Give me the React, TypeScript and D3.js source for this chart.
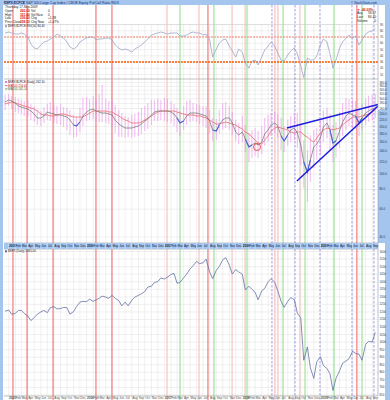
import React from "react";
import * as d3 from "d3";

// Semi-monthly sample dates (1st and 15th), Dec 15 2004 – Sep 15 2009
const sampleDates: Date[] = (() => {
  const out: Date[] = [];
  const first = new Date(2004, 11, 15);
  const last = new Date(2009, 8, 15);
  for (let y = 2004; y <= 2009; y++)
    for (let m = 0; m < 12; m++)
      for (const d of [1, 15]) {
        const dt = new Date(y, m, d);
        if (dt >= first && dt <= last) out.push(dt);
      }
  return out;
})();

// Top indicator panel
const rsiValues = [
  76.4, 78.0, 76.4, 74.8, 74.8, 76.4, 74.8, 70.0, 58.8, 52.4,
  50.8, 57.2, 62.0, 63.6, 66.8, 70.0, 74.8, 71.6, 68.4, 62.0,
  54.0, 50.8, 54.0, 62.0, 65.2, 68.4, 70.0, 70.0, 65.2, 66.8,
  66.8, 68.4, 68.4, 65.2, 57.2, 52.4, 49.2, 50.8, 49.2, 46.0,
  50.8, 54.0, 57.2, 62.0, 66.8, 73.2, 74.8, 76.4, 78.0, 76.4,
  74.8, 76.4, 76.4, 76.4, 71.6, 71.6, 73.2, 76.4, 78.0, 76.4,
  76.4, 73.2, 74.8, 65.2, 38.0, 50.8, 60.4, 65.2, 66.8, 55.6,
  47.6, 38.0, 50.8, 46.0, 28.4, 20.4, 31.6, 33.2, 25.2, 38.0,
  49.2, 55.6, 62.0, 55.6, 44.4, 33.2, 31.6, 41.2, 47.6, 52.4,
  42.8, 23.6, 5.0, 36.4, 33.2, 33.2, 39.6, 57.2, 66.8, 62.0,
  42.8, 20.4, 33.2, 52.4, 62.0, 68.4, 73.2, 68.4, 71.6, 57.2,
  65.2, 74.8, 78.0, 79.6, 84.4,
];

// Ratio panel: period high / low range and the two moving averages
const ratioHigh = [
  316.8, 321.4, 312.2, 307.7, 298.9, 294.6, 290.3, 294.6, 277.9, 269.9,
  254.6, 250.9, 266.0, 277.9, 286.1, 273.8, 269.9, 277.9, 266.0, 262.1,
  254.6, 236.7, 229.9, 262.1, 303.3, 307.7, 298.9, 312.2, 294.6, 321.4,
  366.6, 298.9, 290.3, 294.6, 273.8, 254.6, 243.7, 233.3, 229.9, 236.7,
  240.2, 247.3, 262.1, 269.9, 281.9, 294.6, 294.6, 298.9, 294.6, 303.3,
  298.9, 290.3, 277.9, 262.1, 250.9, 269.9, 290.3, 294.6, 281.9, 277.9,
  273.8, 269.9, 269.9, 254.6, 226.6, 223.3, 254.6, 281.9, 286.1, 269.9,
  247.3, 220.1, 210.7, 233.3, 204.6, 182.1, 190.2, 195.8, 187.5, 201.7,
  226.6, 236.7, 243.7, 247.3, 240.2, 226.6, 201.7, 220.1, 233.3, 243.7,
  243.7, 204.6, 164.4, 142.1, 176.9, 190.2, 195.8, 220.1, 254.6, 262.1,
  240.2, 204.6, 213.7, 247.3, 281.9, 303.3, 298.9, 294.6, 290.3, 262.1,
  277.9, 298.9, 312.2, 316.8, 321.4,
];
const ratioLow = [
  254.6, 269.9, 258.3, 247.3, 243.7, 240.2, 233.3, 229.9, 220.1, 213.7,
  204.6, 201.7, 210.7, 220.1, 216.9, 210.7, 207.6, 204.6, 198.7, 190.2,
  176.9, 169.3, 171.8, 184.8, 201.7, 216.9, 220.1, 223.3, 216.9, 213.7,
  213.7, 210.7, 207.6, 201.7, 182.1, 171.8, 171.8, 169.3, 171.8, 169.3,
  171.8, 174.3, 179.5, 187.5, 193.0, 204.6, 216.9, 216.9, 220.1, 216.9,
  213.7, 210.7, 201.7, 184.8, 174.3, 190.2, 204.6, 213.7, 216.9, 213.7,
  207.6, 201.7, 195.8, 182.1, 162.1, 164.4, 179.5, 190.2, 195.8, 190.2,
  176.9, 162.1, 155.1, 159.7, 138.1, 119.3, 126.5, 130.2, 126.5, 134.1,
  150.7, 159.7, 174.3, 182.1, 169.3, 142.1, 138.1, 150.7, 159.7, 164.4,
  146.3, 114.2, 81.7, 66.7, 89.1, 109.3, 122.9, 132.1, 159.7, 169.3,
  142.1, 119.3, 126.5, 146.3, 174.3, 190.2, 201.7, 195.8, 193.0, 174.3,
  187.5, 204.6, 213.7, 220.1, 226.6,
];
const ma20 = [
  286.1, 294.6, 290.3, 281.9, 269.9, 266.0, 262.1, 258.3, 250.9, 240.2,
  226.6, 226.6, 233.3, 247.3, 243.7, 240.2, 236.7, 236.7, 233.3, 229.9,
  220.1, 204.6, 201.7, 213.7, 233.3, 247.3, 254.6, 258.3, 250.9, 247.3,
  243.7, 243.7, 240.2, 236.7, 220.1, 207.6, 201.7, 195.8, 195.8, 195.8,
  198.7, 201.7, 207.6, 216.9, 223.3, 236.7, 247.3, 250.9, 250.9, 250.9,
  250.9, 247.3, 240.2, 226.6, 210.7, 216.9, 233.3, 243.7, 243.7, 243.7,
  240.2, 236.7, 233.3, 216.9, 190.2, 187.5, 204.6, 220.1, 226.6, 226.6,
  210.7, 184.8, 176.9, 184.8, 166.8, 148.5, 152.9, 157.4, 152.9, 159.7,
  179.5, 190.2, 204.6, 210.7, 201.7, 174.3, 162.1, 176.9, 190.2, 195.8,
  182.1, 152.9, 119.3, 103.1, 122.9, 148.5, 155.1, 169.3, 198.7, 210.7,
  190.2, 157.4, 162.1, 187.5, 213.7, 233.3, 243.7, 236.7, 233.3, 210.7,
  226.6, 243.7, 250.9, 258.3, 262.1,
];
const ma50 = [
  277.9, 281.9, 286.1, 281.9, 277.9, 273.8, 269.9, 266.0, 262.1, 258.3,
  250.9, 240.2, 236.7, 236.7, 233.3, 233.3, 236.7, 240.2, 240.2, 236.7,
  233.3, 229.9, 229.9, 229.9, 229.9, 236.7, 243.7, 250.9, 250.9, 250.9,
  250.9, 250.9, 247.3, 247.3, 240.2, 233.3, 226.6, 220.1, 216.9, 210.7,
  210.7, 210.7, 213.7, 220.1, 226.6, 233.3, 240.2, 247.3, 250.9, 250.9,
  250.9, 250.9, 250.9, 247.3, 243.7, 240.2, 236.7, 236.7, 236.7, 233.3,
  233.3, 229.9, 226.6, 220.1, 213.7, 207.6, 207.6, 210.7, 213.7, 210.7,
  207.6, 204.6, 198.7, 193.0, 184.8, 179.5, 171.8, 164.4, 157.4, 155.1,
  164.4, 174.3, 187.5, 195.8, 198.7, 195.8, 193.0, 190.2, 184.8, 182.1,
  184.8, 184.8, 176.9, 171.8, 164.4, 159.7, 169.3, 182.1, 190.2, 195.8,
  193.0, 190.2, 193.0, 195.8, 204.6, 213.7, 220.1, 229.9, 229.9, 229.9,
  233.3, 236.7, 240.2, 247.3, 254.6,
];
// Troughs of the fast average that are marked in blue
const troughIndex = [22, 54, 65, 75, 86, 93, 101, 109];

// S&P 500 closes
const spxClose = [
  1205,
  1212, 1185, 1190, 1210, 1210, 1190, 1172, 1143, 1162, 1185, 1200, 1210,
  1195, 1228, 1235, 1220, 1222, 1230, 1228, 1186, 1202, 1235, 1265, 1270,
  1268, 1285, 1270, 1280, 1290, 1305, 1298, 1290, 1310, 1290, 1275, 1240,
  1265, 1240, 1278, 1298, 1310, 1320, 1335, 1365, 1370, 1395, 1400, 1425,
  1418, 1430, 1448, 1455, 1390, 1395, 1425, 1450, 1485, 1505, 1535, 1520,
  1525, 1550, 1465, 1420, 1475, 1500, 1545, 1560, 1510, 1450, 1480, 1465,
  1450, 1345, 1370, 1350, 1330, 1280, 1340, 1355, 1400, 1420, 1395, 1340,
  1270, 1230, 1270, 1295, 1280, 1192, 1161, 880, 968, 830, 760, 870,
  903, 845, 825, 790, 680, 760, 810, 860, 875, 890, 940, 925,
  920, 880, 985, 1005, 1000, 1065,
];

// Hand-drawn trendlines on the ratio panel: [date, value]
const trendUpper: [string, number][] = [["2008-07-28", 196], ["2009-09-28", 276]];
const trendLower: [string, number][] = [["2008-09-13", 90.4], ["2009-09-28", 269.9]];
const circledPoint: [string, number] = ["2008-03-10", 148.5];

// Event markers
const redEvents = ["2005-01-21", "2005-03-28", "2005-07-28", "2006-02-14", "2006-04-30", "2007-07-24", "2009-06-21"];
const paleRedEvents = ["2007-01-13", "2007-06-12", "2007-11-14", "2008-01-14", "2008-06-02", "2008-06-16", "2008-09-27"];
const greenEvents = ["2007-03-15", "2007-08-21", "2008-01-23", "2008-07-10", "2008-10-21", "2009-03-06", "2009-07-15"];
const blueEvents = ["2008-05-19", "2008-09-04", "2008-12-30", "2009-05-29", "2009-09-09"];

// Axis ticks
const rsiTicks = [10, 20, 30, 40, 50, 60, 70, 80, 90];
const ratioTicks = [380, 360, 340, 320, 300, 280, 260, 240, 220, 200, 180, 160, 140, 120, 100, 80, 60, 40];
const spxTicks = d3.range(650, 1601, 50);

const W = 390;
const H = 400;
const PL = 4;
const PR = 378;
const P1 = { top: 5, hdr: 25, bottom: 79 };
const P2 = { top: 79, bottom: 243 };
const BAND = { top: 243, bottom: 249 };
const P3 = { top: 249, bottom: 396 };
const FONT = "'Liberation Sans', Arial, sans-serif";
const FRAME = "#a3c5ee";
const GRID = "#e1e1e1";

const parse = d3.timeParse("%Y-%m-%d");

export default function App() {
  const x = d3.scaleTime().domain([new Date(2004, 11, 10), new Date(2009, 8, 28)]).range([PL, PR]);
  const yRsi = d3.scaleLinear().domain([0, 100]).range([80.75, 18.25]);
  const yRatio = d3.scaleLog().domain([40, 400]).range([237, 79]);
  const ySpx = d3.scaleLinear().domain([630, 1610]).range([398, 250]);

  const xi = (i: number) => x(sampleDates[i]);
  const rsiLine = d3.line<number>().x((_, i) => xi(i)).y((v) => yRsi(v))(rsiValues) || "";
  const ma20Line = d3.line<number>().x((_, i) => xi(i)).y((v) => yRatio(v))(ma20) || "";
  const ma50Line = d3.line<number>().x((_, i) => xi(i)).y((v) => yRatio(v))(ma50) || "";
  const spxLine = d3.line<number>().x((_, i) => xi(i)).y((v) => ySpx(v))(spxClose) || "";
  const trendPath = (pts: [string, number][]) =>
    d3.line<[string, number]>().x((p) => x(parse(p[0])!)).y((p) => yRatio(p[1]))(pts) || "";
  const troughPaths = troughIndex.map((k) => {
    const idx = [k - 1, k, k + 1];
    return d3.line<number>().x((i) => xi(i)).y((i) => yRatio(ma20[i]))(idx) || "";
  });

  const months = d3.timeMonth.range(new Date(2004, 11, 1), new Date(2009, 9, 1)).filter((d) => x(d) >= PL && x(d) <= PR);
  const monthLabel = (d: Date) => (d.getMonth() === 0 ? String(d.getFullYear()) : d3.timeFormat("%b")(d));

  const last = rsiValues.length - 1;
  const fmt2 = d3.format(".2f");

  const eventGroups = [
    { dates: redEvents, stroke: "#f07b7b", width: 1.2, dash: undefined },
    { dates: paleRedEvents, stroke: "#f7c3c3", width: 1.2, dash: undefined },
    { dates: greenEvents, stroke: "#9ee39a", width: 1.2, dash: undefined },
    { dates: blueEvents, stroke: "#8585e8", width: 0.8, dash: "2.5,1.5" },
  ];

  const txt = { fontFamily: FONT } as const;

  return (
    <svg width={W} height={H} viewBox={`0 0 ${W} ${H}`} style={{ position: "absolute", left: 0, top: 0, background: "#fff" }}>
      <defs>
        <clipPath id="c1"><rect x={PL} y={P1.hdr} width={PR - PL} height={P1.bottom - P1.hdr} /></clipPath>
        <clipPath id="c2"><rect x={PL} y={P2.top} width={PR - PL} height={P2.bottom - P2.top} /></clipPath>
        <clipPath id="c3"><rect x={PL} y={P3.top} width={PR - PL} height={P3.bottom - P3.top} /></clipPath>
      </defs>

      {/* frame strips */}
      <rect x={0} y={0} width={W} height={P1.top} fill={FRAME} />
      <rect x={0} y={0} width={PL - 1} height={H} fill={FRAME} />
      <rect x={W - 5} y={0} width={5} height={H} fill={FRAME} />
      <rect x={PR} y={110} width={W - PR} height={P2.bottom - 110} fill={FRAME} />

      {/* monthly grid */}
      {months.map((d, i) => (
        <g key={`mg${i}`} stroke={GRID} strokeWidth={0.5}>
          <line x1={x(d)} x2={x(d)} y1={P1.hdr} y2={P1.bottom} />
          <line x1={x(d)} x2={x(d)} y1={P2.top} y2={P2.bottom} />
          <line x1={x(d)} x2={x(d)} y1={P3.top} y2={P3.bottom} />
        </g>
      ))}

      {/* horizontal grids */}
      {rsiTicks.map((t) => (
        <line key={`rg${t}`} x1={PL} x2={PR} y1={yRsi(t)} y2={yRsi(t)} stroke={t === 90 ? "#bdbdbd" : GRID} strokeWidth={0.5} />
      ))}
      {ratioTicks.map((t) => (
        <line key={`qg${t}`} x1={PL} x2={PR} y1={yRatio(t)} y2={yRatio(t)} stroke={GRID} strokeWidth={0.5} />
      ))}
      {spxTicks.map((t) => (
        <line key={`sg${t}`} x1={PL} x2={PR} y1={ySpx(t)} y2={ySpx(t)} stroke={GRID} strokeWidth={0.5} />
      ))}

      {/* event markers */}
      {eventGroups.map((g, gi) =>
        g.dates.map((s, i) => {
          const xx = x(parse(s)!);
          return (
            <line key={`ev${gi}-${i}`} x1={xx} x2={xx} y1={P1.top} y2={H} stroke={g.stroke} strokeWidth={g.width} strokeDasharray={g.dash} />
          );
        })
      )}

      {/* overbought / oversold levels */}
      <line x1={PL} x2={PR} y1={yRsi(70)} y2={yRsi(70)} stroke="#f5a596" strokeOpacity={0.7} strokeWidth={2.2} strokeDasharray="2,1" />
      <line x1={PL} x2={PR} y1={yRsi(30)} y2={yRsi(30)} stroke="#ff5a00" strokeWidth={1.3} strokeDasharray="2,1" />

      {/* indicator line */}
      <path d={rsiLine} fill="none" stroke="#97a2c4" strokeWidth={0.75} clipPath="url(#c1)" />

      {/* ratio panel */}
      <g clipPath="url(#c2)">
        {ratioHigh.map((h, i) => (
          <line key={`rb${i}`} x1={xi(i)} x2={xi(i)} y1={yRatio(h)} y2={yRatio(ratioLow[i])} stroke="#e884e8" strokeOpacity={0.5} strokeWidth={1.1} />
        ))}
        <path d={ma50Line} fill="none" stroke="#e86262" strokeWidth={0.75} />
        <path d={ma20Line} fill="none" stroke="#6f7a6f" strokeWidth={0.75} />
        {troughPaths.map((p, i) => (
          <path key={`tr${i}`} d={p} fill="none" stroke="#4866dc" strokeWidth={1.1} />
        ))}
        <path d={trendPath(trendUpper)} fill="none" stroke="#1d1de0" strokeWidth={1.5} />
        <path d={trendPath(trendLower)} fill="none" stroke="#1d1de0" strokeWidth={1.5} />
        <circle cx={x(parse(circledPoint[0])!)} cy={yRatio(circledPoint[1])} r={3.5} fill="none" stroke="#e03030" strokeWidth={0.8} />
      </g>

      {/* S&P panel */}
      <path d={spxLine} fill="none" stroke="#5a6b9e" strokeWidth={0.75} clipPath="url(#c3)" />

      {/* panel borders */}
      <g stroke="#9a9a9a" strokeWidth={0.6}>
        <line x1={PL} x2={PR} y1={P2.top} y2={P2.top} />
        <line x1={PL} x2={PR} y1={P2.bottom} y2={P2.bottom} />
        <line x1={PL} x2={PR} y1={P3.top} y2={P3.top} />
        <line x1={PL} x2={PR} y1={P3.bottom} y2={P3.bottom} />
        <line x1={PR} x2={PR} y1={P1.top} y2={P3.bottom} />
      </g>

      {/* date band */}
      <rect x={PL} y={BAND.top} width={PR - PL} height={BAND.bottom - BAND.top} fill={FRAME} />
      {months.map((d, i) => (
        <g key={`ml${i}`} style={txt}>
          <line x1={x(d)} x2={x(d)} y1={BAND.top} y2={BAND.bottom} stroke="#ffffff" strokeWidth={0.4} />
          <text x={x(d) + 0.4} y={BAND.bottom - 1.6} fontSize={3.1} fill="#10204a" fontWeight={d.getMonth() === 0 ? 700 : 400}>{monthLabel(d)}</text>
          <text x={x(d) + 0.4} y={H - 0.8} fontSize={3.1} fill="#555" fontWeight={d.getMonth() === 0 ? 700 : 400}>{monthLabel(d)}</text>
        </g>
      ))}

      {/* right axes */}
      <g style={txt} fontSize={2.9} fill="#333">
        {rsiTicks.map((t) => (
          <text key={`rl${t}`} x={PR + 2} y={yRsi(t) + 1}>{t}</text>
        ))}
        {ratioTicks.map((t) => (
          <text key={`ql${t}`} x={PR + 1.5} y={yRatio(t) + 1}>{d3.format(".1f")(t)}</text>
        ))}
        {spxTicks.map((t) => (
          <text key={`sl${t}`} x={PR + 1.5} y={ySpx(t) + 1}>{t}</text>
        ))}
      </g>

      {/* title bar */}
      <text x={4} y={3.8} fontSize={3.4} fill="#14286a" style={txt}>
        <tspan fontWeight={700}>$SPX:$CPCE</tspan> S&amp;P 500 Large Cap Index / CBOE Equity Put/Call Ratio  INDX
      </text>
      <text x={PR - 1} y={3.8} fontSize={3} fill="#14286a" textAnchor="end" style={txt}>© StockCharts.com</text>

      {/* header block */}
      <g style={txt} fontSize={3.2} fill="#222">
        <text x={5} y={8.4}>Thursday 17-Sep-2009</text>
        {[
          ["Open", fmt2(ma20[last] - 1.9), "Vol", "0"],
          ["High", fmt2(ratioHigh[last]), "Vol Now", "0"],
          ["Low", fmt2(ratioLow[last]), "Chg", "+1.38"],
          ["Prev Close", fmt2(ma20[last - 1]), "Chg Now", "+1.47%"],
        ].map((r, i) => (
          <g key={`hd${i}`}>
            <text x={5} y={12 + i * 3.5}>{r[0]}</text>
            <text x={20} y={12 + i * 3.5} fill="#d01010" fontWeight={700}>{r[1]}</text>
            <text x={31} y={12 + i * 3.5}>{r[2]}</text>
            <text x={48} y={12 + i * 3.5}>{r[3]}</text>
          </g>
        ))}
        <rect x={5} y={25.2} width={2} height={2} fill="#97a2c4" />
        <text x={8} y={27.3} fontSize={2.9}>$SPX:$CPCE RSI(14) {fmt2(rsiValues[last])}</text>
      </g>
      <g style={txt} fontSize={3.2} fill="#222">
        <text x={357} y={10.5} fill="#d01010" fontWeight={700}>▼ -40.03%</text>
        <text x={357} y={14.3}>Avg</text>
        <text x={376} y={14.3} textAnchor="end">{fmt2(d3.mean(rsiValues)!)}</text>
        <text x={357} y={18.1}>Last</text>
        <text x={376} y={18.1} textAnchor="end">{fmt2(rsiValues[last])}</text>
        <text x={357} y={21.9}>Volume</text>
        <text x={376} y={21.9} textAnchor="end">0</text>
      </g>

      {/* ratio panel legend */}
      <g style={txt} fontSize={2.9} fill="#222">
        <rect x={5} y={81} width={2} height={2} fill="#e57de5" />
        <text x={8} y={83}>$SPX:$CPCE (Daily) {fmt2(ma20[last])}</text>
        <line x1={5} x2={7.5} y1={85.5} y2={85.5} stroke="#e65a5a" strokeWidth={0.8} />
        <text x={8} y={86.5} fill="#c43030">MA(50) {fmt2(ma50[last])}</text>
        <line x1={5} x2={7.5} y1={88.9} y2={88.9} stroke="#6f7a6f" strokeWidth={0.8} />
        <text x={8} y={89.9} fill="#3c6e3c">MA(20) {fmt2(ma20[last])}</text>
      </g>

      {/* S&P legend */}
      <g style={txt} fontSize={2.9} fill="#222">
        <rect x={5} y={250.3} width={2} height={2} fill="#5a6b9e" />
        <text x={8} y={252.4}>$SPX (Daily) {fmt2(spxClose[last])}</text>
      </g>
    </svg>
  );
}
